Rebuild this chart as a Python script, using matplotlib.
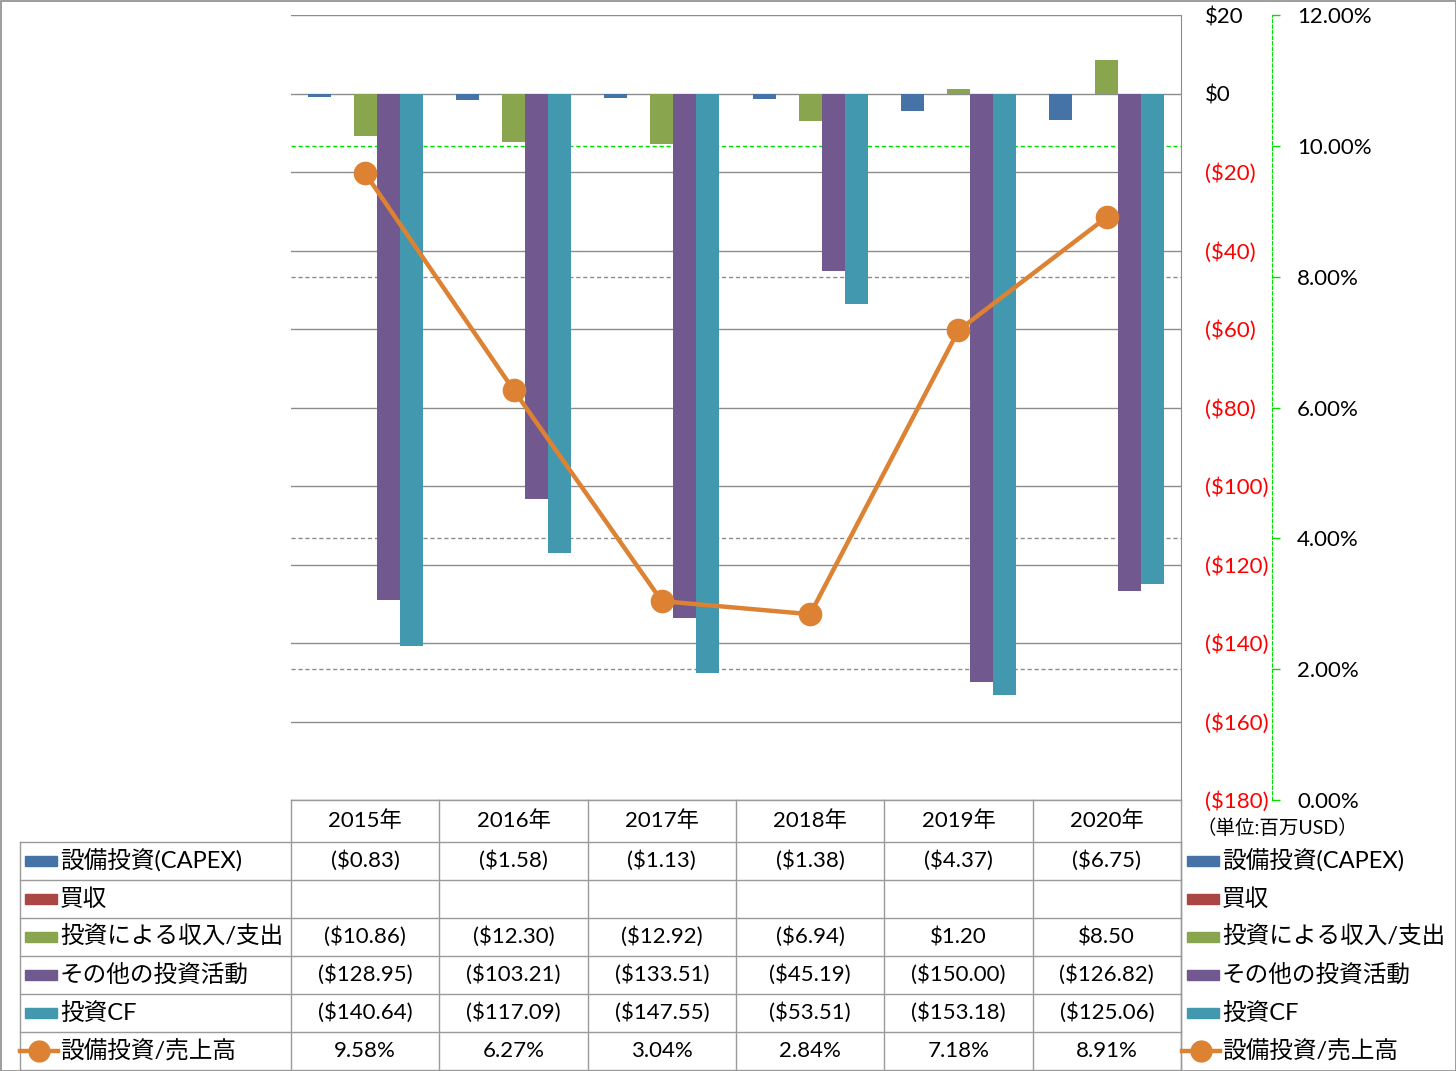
"""
投資キャッシュフロー内訳 + 設備投資/売上高 (Excel風データテーブル付き)
"""

import matplotlib
matplotlib.use("Agg")
import matplotlib.pyplot as plt
from matplotlib.patches import Rectangle
from matplotlib.lines import Line2D
import numpy as np

plt.rcParams["font.family"] = ["Lato", "Noto Sans CJK JP", "DejaVu Sans"]

# ---- データ (百万USD) ----
years = ["2015年", "2016年", "2017年", "2018年", "2019年", "2020年"]
capex = [-0.83, -1.58, -1.13, -1.38, -4.37, -6.75]
acquisitions = [None, None, None, None, None, None]
inv_income = [-10.86, -12.30, -12.92, -6.94, 1.20, 8.50]
other_inv = [-128.95, -103.21, -133.51, -45.19, -150.00, -126.82]
inv_cf = [-140.64, -117.09, -147.55, -53.51, -153.18, -125.06]
capex_ratio = [9.58, 6.27, 3.04, 2.84, 7.18, 8.91]  # %

bar_names = ["設備投資(CAPEX)", "買収", "投資による収入/支出", "その他の投資活動", "投資CF"]
line_name = "設備投資/売上高"
bar_series = [capex, acquisitions, inv_income, other_inv, inv_cf]
bar_colors = ["#4572A7", "#AA4643", "#89A54E", "#71588F", "#4198AF"]
line_color = "#DD8233"

FS = 16      # 数値・年
FS_JP = 17   # 凡例ラベル

W, H = 1456, 1071
fig = plt.figure(figsize=(W / 100, H / 100), dpi=100)


def fx(px):
    return px / W


def fy(py):
    return 1 - py / H


# ---- 主軸 (棒) ----
L, R, T, B = 291, 1181, 15, 800
ax = fig.add_axes([fx(L), fy(B), fx(R - L), (B - T) / H])
ax.set_xlim(-0.5, 5.5)
ax.set_ylim(-180, 20)
x = np.arange(len(years))
bw = 23 / ((R - L) / 6)
for i, (vals, c) in enumerate(zip(bar_series, bar_colors)):
    v = np.array([np.nan if a is None else a for a in vals], dtype=float)
    ax.bar(x + (i - 2) * bw, v, width=bw, color=c, zorder=3)

for t in range(-180, 21, 20):
    ax.axhline(t, color="#8c8c8c", lw=1, zorder=1)

# 副軸のグリッド (破線) を主軸上に描く
for p in [2, 4, 8, 10]:
    yy = -180 + p * 200 / 12
    col = "#00E000" if p == 10 else "#8c8c8c"
    ax.axhline(yy, color=col, lw=1, ls=(0, (3, 2)), zorder=1)

# ---- 副軸 (折れ線) ----
ax2 = ax.twinx()
ax2.set_ylim(0, 0.12)
ax2.plot(x, np.array(capex_ratio) / 100, color=line_color, lw=3.2,
         marker="o", ms=16, zorder=5)
ax2.spines["right"].set_position(("axes", (1272 - L) / (R - L)))
ax2.spines["right"].set_color("#00E000")
ax2.spines["right"].set_linestyle((0, (3, 2)))
pticks = np.arange(0, 0.121, 0.02)
ax2.set_yticks(pticks)
ax2.set_yticklabels([f"{v * 100:.2f}%" for v in pticks], fontsize=FS)
ax2.tick_params(axis="y", length=6, color="#00E000", width=1, pad=12)
for s in ["left", "top", "bottom"]:
    ax2.spines[s].set_visible(False)

# 主軸の目盛 (twinx の後で右側へ)
ax.set_xticks([])
ax.yaxis.tick_right()
ticks = list(range(-180, 21, 20))
ax.set_yticks(ticks)
ax.set_yticklabels([f"(${-t})" if t < 0 else f"${t}" for t in ticks], fontsize=FS)
for lab, t in zip(ax.get_yticklabels(), ticks):
    lab.set_color("red" if t < 0 else "black")
    lab.set_horizontalalignment("left")
ax.tick_params(axis="y", length=0, pad=17)
for s in ["left", "top", "bottom"]:
    ax.spines[s].set_visible(False)
ax.spines["right"].set_color("#8c8c8c")

# ---- データテーブル・凡例 ----
ov = fig.add_axes([0, 0, 1, 1], facecolor="none")
ov.set_xlim(0, W)
ov.set_ylim(H, 0)
ov.axis("off")
gc = "#9a9a9a"
cols = np.linspace(L, R, 7)
rows = [800, 842, 880, 918, 956, 994, 1032, 1070]

ov.plot([L, R], [800, 800], color=gc, lw=1)
for yy in rows[1:]:
    ov.plot([20, R], [yy, yy], color=gc, lw=1)
for cx in cols:
    ov.plot([cx, cx], [800, 1070], color=gc, lw=1)
ov.plot([20, 20], [842, 1070], color=gc, lw=1)
ov.plot([R, R], [842, 1070], color=gc, lw=1)

centers = (cols[:-1] + cols[1:]) / 2
for cx, yr in zip(centers, years):
    ov.text(cx, 821, yr, ha="center", va="center", fontsize=FS)


def fmt(v):
    if v is None:
        return ""
    return f"(${-v:.2f})" if v < 0 else f"${v:.2f}"


row_mid = [(rows[i] + rows[i + 1]) / 2 for i in range(1, 7)]
for r, vals in enumerate(bar_series):
    for cx, v in zip(centers, vals):
        ov.text(cx, row_mid[r], fmt(v), ha="center", va="center", fontsize=FS)
for cx, v in zip(centers, capex_ratio):
    ov.text(cx, row_mid[5], f"{v:.2f}%", ha="center", va="center", fontsize=FS)

labels = bar_names + [line_name]
for kx in [25, 1187]:
    for r, name in enumerate(labels):
        ym = row_mid[r]
        if r < 5:
            ov.add_patch(Rectangle((kx, ym - 5), 32, 10, color=bar_colors[r]))
        else:
            ov.add_line(Line2D([kx - 5, kx + 33], [ym, ym], color=line_color, lw=3.2))
            ov.plot(kx + 14, ym, "o", color=line_color, ms=15)
        ov.text(kx + 35, ym, name, ha="left", va="center", fontsize=FS_JP)

ov.text(1196, 828, "（単位:百万USD）", ha="left", va="center", fontsize=14)

# 外枠
ov.add_patch(Rectangle((0.5, 0.5), W - 1, H - 1, fill=False, ec="#8c8c8c", lw=1.2))

fig.savefig("out.png", dpi=100, facecolor="white")
